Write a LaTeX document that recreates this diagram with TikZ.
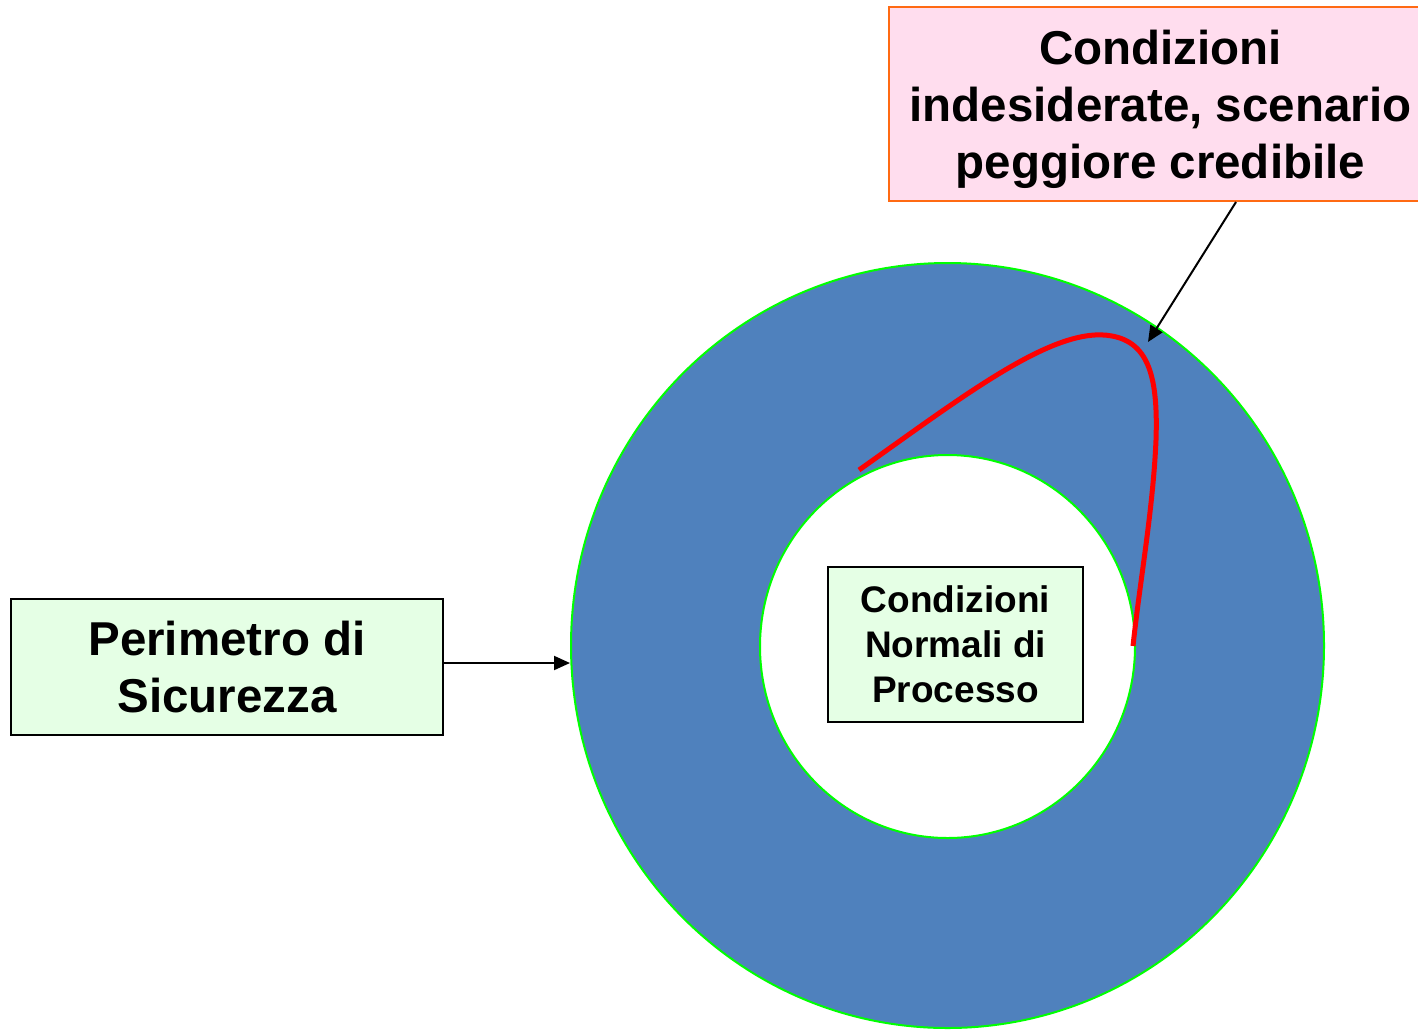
\documentclass[tikz,border=0pt]{standalone}
\usepackage{fontspec}
\setmainfont{Liberation Sans}
\usepackage{xcolor}
\usetikzlibrary{
    arrows.meta,
    positioning,
    shapes.geometric,
}

\definecolor{ringblue}{HTML}{4F81BD}
\definecolor{ringgreen}{HTML}{00FF00}
\definecolor{boxgreen}{HTML}{E5FFE5}
\definecolor{boxpink}{HTML}{FFDDEE}
\definecolor{boxorange}{HTML}{FF6A13}

\begin{document}
\begin{tikzpicture}[
        x=1pt, y=-1pt,
        ring/.style={
            ellipse, draw=ringgreen, line width=2pt, inner sep=0pt
        },
        label box/.style={
            rectangle, draw=black, line width=2pt, fill=boxgreen,
            inner sep=0pt, align=center, font=#1
        },
        label box/.default=\bfseries\fontsize{47.5}{57}\selectfont,
        arrow/.style={-{Triangle[length=16pt,width=14pt]}, line width=2pt, black},
        scenario/.style={red, line width=5pt},
    ]

    \useasboundingbox (0,0) rectangle (1418,1029);

    % ── Ring: perimeter and normal area ──
    \node[ring, fill=ringblue, minimum width=753pt, minimum height=765pt] (outer) at (947.5,645.5) {};
    \node[ring, fill=white, minimum width=375pt, minimum height=383pt] (inner) at (947.5,646.5) {};

    % ── Boxes ──
    \node[label box, minimum width=432pt, minimum height=136pt] (perim) at (227,667)
        {Perimetro di\\Sicurezza};
    \node[label box=\bfseries\fontsize{37}{45}\selectfont,
          minimum width=255pt, minimum height=155pt] (normal) at (955.5,644.5)
        {Condizioni\\Normali di\\Processo};
    \node[label box, draw=boxorange, fill=boxpink,
          minimum width=543pt, minimum height=194pt] (worst) at (1160.5,104)
        {\rule{0pt}{45pt}Condizioni\\indesiderate, scenario\\peggiore credibile};

    % ── Worst credible excursion ──
    \draw[scenario] (859,470) .. controls (965,395) and (1055,325) .. (1112,336)
        .. controls (1150,343) and (1158,380) .. (1156,440)
        .. controls (1153,510) and (1140,580) .. (1133,646);

    % ── Arrows ──
    \coordinate (tip) at (1148,342);
    \draw[arrow] ([yshift=4pt]perim.east) -- ([yshift=4pt]perim.east -| outer.west);
    \draw[arrow] (worst.south -| 1236,0) -- (tip);

\end{tikzpicture}
\end{document}
